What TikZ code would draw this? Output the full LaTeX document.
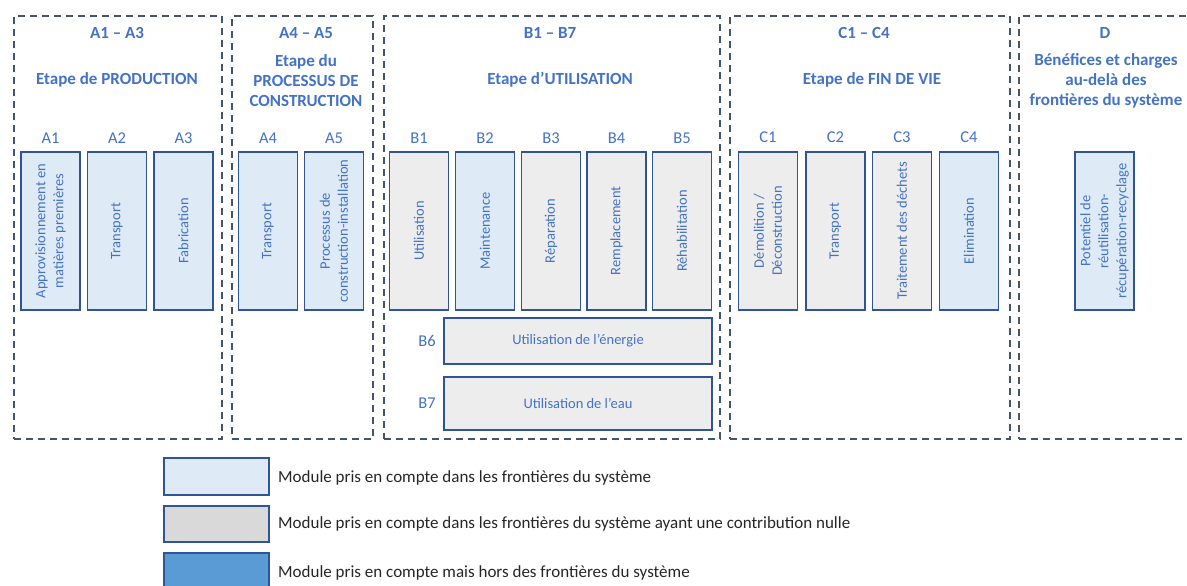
\documentclass[tikz,border=0pt]{standalone}
\usepackage{fontspec}
\setmainfont{Carlito}
\definecolor{txtblue}{HTML}{4472C4}
\definecolor{modborder}{HTML}{2F5597}
\definecolor{lblue}{HTML}{DEEBF7}
\definecolor{lgray}{HTML}{EDEDED}
\definecolor{leggray}{HTML}{D9D9D9}
\definecolor{legblue}{HTML}{5B9BD5}
\definecolor{dashc}{HTML}{44546A}
\definecolor{legtxt}{HTML}{262626}
\tikzset{
  stagebox/.style={draw=dashc, line width=2.4pt, dash pattern=on 7pt off 5pt, inner sep=0pt, anchor=north west},
  head/.style={text=txtblue, font=\fontsize{17}{20}\selectfont\bfseries, align=center, inner sep=0pt},
  modlabel/.style={text=txtblue, font=\fontsize{16.5}{19}\selectfont, inner sep=0pt},
  modbox/.style={draw=modborder, line width=1.8pt, text=txtblue, font=\fontsize{14.5}{18}\selectfont, align=center, inner sep=0pt},
  vbox/.style={modbox, rotate=90, minimum width=158pt, minimum height=59pt},
  hbox/.style={modbox, minimum width=268pt},
  lbfill/.style={fill=lblue},
  grfill/.style={fill=lgray},
  legbox/.style={draw=modborder, line width=1.8pt, minimum width=105pt, inner sep=0pt},
  legtext/.style={text=legtxt, font=\fontsize{17}{20}\selectfont, anchor=west, inner sep=0pt}
}
\begin{document}
\begin{tikzpicture}[x=1pt,y=-1pt]
\useasboundingbox (0,0) rectangle (1187,586);
% stage containers
\node[stagebox, minimum width=208pt, minimum height=423pt] (SA) at (13,15) {};
\node[stagebox, minimum width=141pt, minimum height=423pt] (SAB) at (231,15) {};
\node[stagebox, minimum width=336pt, minimum height=423pt] (SB) at (383,15) {};
\node[stagebox, minimum width=280pt, minimum height=423pt] (SC) at (729,15) {};
\node[stagebox, minimum width=190pt, minimum height=423pt] (SD) at (1018,15) {};
% headers
\node[head] (hA1) at (117,33) {A1 – A3};
\node[head] (hA2) at (117,80) {Etape de PRODUCTION};
\node[head] (hB1) at (306,33) {A4 – A5};
\node[head] (hB2) at (306,81) {Etape du\\PROCESSUS DE\\CONSTRUCTION};
\node[head] (hC1) at (550,33) {B1 – B7};
\node[head] (hC2) at (560,80) {Etape d’UTILISATION};
\node[head] (hD1) at (864,33) {C1 – C4};
\node[head] (hD2) at (872,80) {Etape de FIN DE VIE};
\node[head] (hE1) at (1105,33) {D};
\node[head] (hE2) at (1106,81) {Bénéfices et charges\\au-delà des\\frontières du système};
% module labels
\node[modlabel] (lA1) at (50.5,138.5) {A1};
\node[modlabel] (lA2) at (117,138.5) {A2};
\node[modlabel] (lA3) at (183.5,138.5) {A3};
\node[modlabel] (lA4) at (268,138.5) {A4};
\node[modlabel] (lA5) at (334,138.5) {A5};
\node[modlabel] (lB1) at (419,138.5) {B1};
\node[modlabel] (lB2) at (485,138.5) {B2};
\node[modlabel] (lB3) at (551,138.5) {B3};
\node[modlabel] (lB4) at (616.5,138.5) {B4};
\node[modlabel] (lB5) at (682,138.5) {B5};
\node[modlabel] (lC1) at (768,137.5) {C1};
\node[modlabel] (lC2) at (835.5,137.5) {C2};
\node[modlabel] (lC3) at (902,137.5) {C3};
\node[modlabel] (lC4) at (969,137.5) {C4};
\node[modlabel] (lB6) at (427,341) {B6};
\node[modlabel] (lB7) at (427,403.5) {B7};
% module boxes
\node[vbox, lbfill] (A1) at (50.5,231) {Approvisionnement en\\matières premières};
\node[vbox, lbfill] (A2) at (117,231) {Transport};
\node[vbox, lbfill] (A3) at (183.5,231) {Fabrication};
\node[vbox, lbfill] (A4) at (268,231) {Transport};
\node[vbox, lbfill] (A5) at (334,231) {Processus de\\construction-installation};
\node[vbox, grfill] (B1) at (419,231) {Utilisation};
\node[vbox, lbfill] (B2) at (485,231) {Maintenance};
\node[vbox, grfill] (B3) at (551,231) {Réparation};
\node[vbox, grfill] (B4) at (616.5,231) {Remplacement};
\node[vbox, grfill] (B5) at (682,231) {Réhabilitation};
\node[hbox, grfill, minimum height=46pt] (B6) at (578,341) {Utilisation de l’énergie};
\node[hbox, grfill, minimum height=53pt] (B7) at (578,403.5) {Utilisation de l’eau};
\node[vbox, grfill] (C1) at (768,231) {Démolition /\\Déconstruction};
\node[vbox, grfill] (C2) at (835.5,231) {Transport};
\node[vbox, grfill] (C3) at (902,231) {Traitement des déchets};
\node[vbox, lbfill] (C4) at (969,231) {Elimination};
\node[vbox, lbfill] (D) at (1104.5,231) {Potentiel de\\réutilisation-\\récupération-recyclage};
% legend
\node[legbox, fill=lblue, minimum height=37pt] (L1) at (216.5,476.5) {};
\node[legbox, fill=leggray, minimum height=36pt] (L2) at (216.5,524) {};
\node[legbox, fill=legblue, minimum height=37pt] (L3) at (216.5,571.5) {};
\node[legtext] (T1) at (278,478) {Module pris en compte dans les frontières du système};
\node[legtext] (T2) at (278,524) {Module pris en compte dans les frontières du système ayant une contribution nulle};
\node[legtext] (T3) at (278,573) {Module pris en compte mais hors des frontières du système};
\end{tikzpicture}
\end{document}
